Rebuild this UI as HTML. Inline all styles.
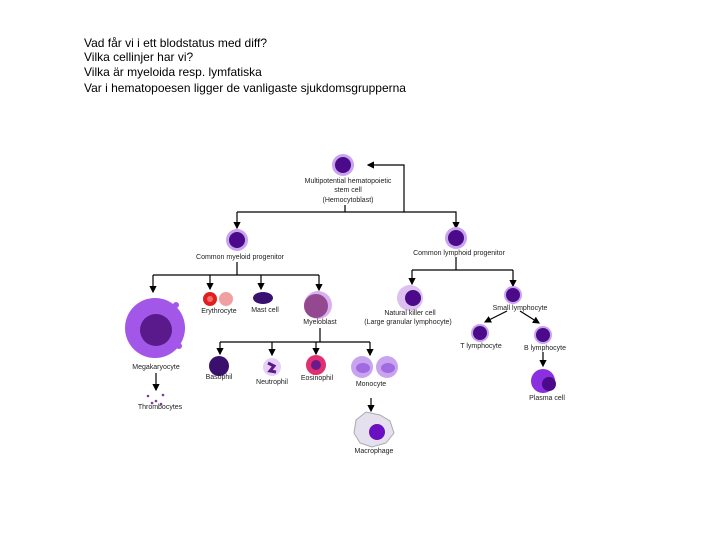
<!DOCTYPE html>
<html><head><meta charset="utf-8"><style>
body{margin:0;width:720px;height:540px;background:#fff;overflow:hidden}
svg{position:absolute;left:0;top:0}
.t{font-family:"Liberation Sans",sans-serif;font-size:12px;fill:#000}
.l{font-family:"Liberation Sans",sans-serif;font-size:7px;fill:#222;text-anchor:middle}
</style></head><body>
<svg width="720" height="540" viewBox="0 0 720 540">
<defs><marker id="a" markerWidth="6" markerHeight="6" refX="5" refY="3" orient="auto"><path d="M0,0L6,3L0,6z" fill="#000"/></marker></defs>
<text class="t" x="84" y="47">Vad får vi i ett blodstatus med diff?</text>
<text class="t" x="84" y="61">Vilka cellinjer har vi?</text>
<text class="t" x="84" y="76">Vilka är myeloida resp. lymfatiska</text>
<text class="t" x="84" y="92">Var i hematopoesen ligger de vanligaste sjukdomsgrupperna</text>
<g stroke="#000" stroke-width="1.2" fill="none">
<path d="M345,205V212M237,212H404V165H368" marker-end="url(#a)"/>
<path d="M237,212V228" marker-end="url(#a)"/>
<path d="M404,212H456V228" marker-end="url(#a)"/>
<path d="M237,262V275M153,275H319"/>
<path d="M153,275V292" marker-end="url(#a)"/><path d="M210,275V289" marker-end="url(#a)"/>
<path d="M261,275V289" marker-end="url(#a)"/><path d="M319,275V290" marker-end="url(#a)"/>
<path d="M156,373V390" marker-end="url(#a)"/>
<path d="M320,328V342M220,342H370"/>
<path d="M220,342V354" marker-end="url(#a)"/><path d="M272,342V355" marker-end="url(#a)"/>
<path d="M316,342V354" marker-end="url(#a)"/><path d="M370,342V355" marker-end="url(#a)"/>
<path d="M371,398V411" marker-end="url(#a)"/>
<path d="M456,257V270M412,270H513"/>
<path d="M412,270V284" marker-end="url(#a)"/><path d="M513,270V286" marker-end="url(#a)"/>
<path d="M507,311L485,322" marker-end="url(#a)"/><path d="M520,311L539,323" marker-end="url(#a)"/>
<path d="M543,352V366" marker-end="url(#a)"/>
</g>
<g>
<circle cx="343" cy="165" r="11" fill="#c9a3ef"/><circle cx="343" cy="165" r="8" fill="#4a0a8a"/>
<circle cx="237" cy="240" r="11" fill="#c9a3ef"/><circle cx="237" cy="240" r="8" fill="#4a0a8a"/>
<circle cx="456" cy="238" r="11" fill="#c9a3ef"/><circle cx="456" cy="238" r="8" fill="#4a0a8a"/>
<circle cx="155" cy="328" r="30" fill="#a257e8"/><circle cx="156" cy="330" r="16" fill="#5a1a8c"/>
<circle cx="179" cy="346" r="3" fill="#a257e8"/><circle cx="133" cy="318" r="3" fill="#a257e8"/><circle cx="176" cy="305" r="3" fill="#a257e8"/><circle cx="137" cy="346" r="3" fill="#a257e8"/>
<circle cx="210" cy="299" r="7" fill="#e02020"/><circle cx="210" cy="299" r="3" fill="#f07070"/>
<circle cx="226" cy="299" r="7" fill="#f0a0a0"/>
<ellipse cx="263" cy="298" rx="10" ry="6" fill="#3a1070"/>
<circle cx="318" cy="305" r="14" fill="#d9b0ef"/><circle cx="316" cy="306" r="12" fill="#94488f"/>
<circle cx="219" cy="366" r="10" fill="#3a0f6e"/>
<circle cx="272" cy="367" r="9" fill="#e6d0f5"/><path d="M268,363 l6,3 -4,5 6,1" stroke="#5a1a8c" stroke-width="3" fill="none"/>
<circle cx="316" cy="365" r="10" fill="#e03070"/><circle cx="316" cy="365" r="5" fill="#6a1a8c"/>
<circle cx="362" cy="367" r="11" fill="#c9a3ef"/><ellipse cx="363" cy="368" rx="7" ry="5" fill="#a06ae0"/>
<circle cx="387" cy="367" r="11" fill="#c9a3ef"/><ellipse cx="388" cy="368" rx="7" ry="5" fill="#a06ae0"/>
<path d="M356,420 l10,-8 14,3 10,6 4,12 -8,10 -14,4 -12,-4 -6,-10z" fill="#e4e0ee" stroke="#aaa"/>
<circle cx="377" cy="432" r="8" fill="#6a10c0"/>
<circle cx="410" cy="298" r="13" fill="#dcc0f0"/><circle cx="413" cy="298" r="8" fill="#4a0a8a"/>
<circle cx="513" cy="295" r="9" fill="#c9a3ef"/><circle cx="513" cy="295" r="7" fill="#4a0a8a"/>
<circle cx="480" cy="333" r="9" fill="#c9a3ef"/><circle cx="480" cy="333" r="7" fill="#4a0a8a"/>
<circle cx="543" cy="335" r="9" fill="#c9a3ef"/><circle cx="543" cy="335" r="7" fill="#4a0a8a"/>
<circle cx="543" cy="381" r="12" fill="#8a30e0"/><circle cx="549" cy="384" r="7" fill="#4a0a8a"/>
<g fill="#7a3aa0"><circle cx="148" cy="396" r="1.3"/><circle cx="156" cy="401" r="1.3"/><circle cx="163" cy="395" r="1.3"/><circle cx="152" cy="403" r="1.3"/><circle cx="161" cy="404" r="1.3"/></g>
</g>
<g class="l">
<text x="348" y="183">Multipotential hematopoietic</text><text x="348" y="192">stem cell</text><text x="348" y="202">(Hemocytoblast)</text>
<text x="240" y="259">Common myeloid progenitor</text>
<text x="459" y="255">Common lymphoid progenitor</text>
<text x="219" y="313">Erythrocyte</text><text x="265" y="312">Mast cell</text><text x="320" y="324">Myeloblast</text>
<text x="156" y="369">Megakaryocyte</text><text x="160" y="409">Thrombocytes</text>
<text x="219" y="379">Basophil</text><text x="272" y="384">Neutrophil</text><text x="317" y="380">Eosinophil</text>
<text x="371" y="386">Monocyte</text><text x="374" y="453">Macrophage</text>
<text x="410" y="315">Natural killer cell</text><text x="408" y="324">(Large granular lymphocyte)</text>
<text x="520" y="310">Small lymphocyte</text><text x="481" y="348">T lymphocyte</text>
<text x="545" y="350">B lymphocyte</text><text x="547" y="400">Plasma cell</text>
</g>
</svg>
</body></html>
